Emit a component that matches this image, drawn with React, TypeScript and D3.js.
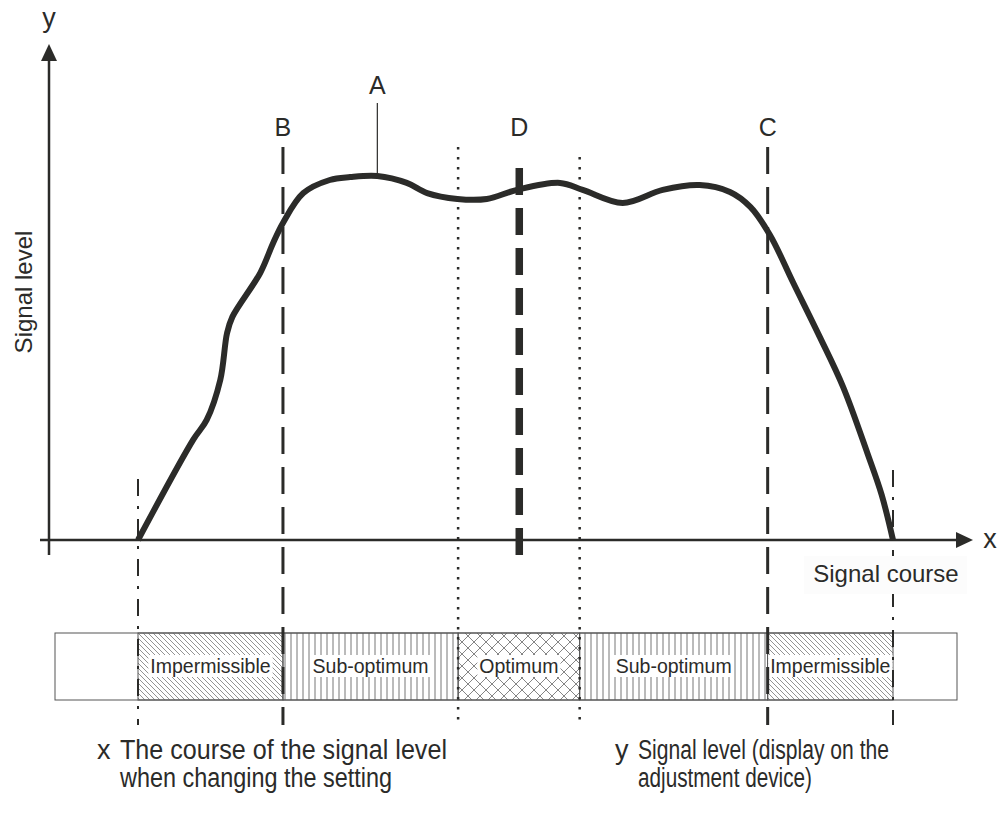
import React, { useRef, useEffect } from 'react';
import * as d3 from 'd3';

// signal course (0 = lower limit, 100 = upper limit) vs signal level (0..100 = peak)
const curveX = [0, 7.3, 9.1, 10.9, 11.8, 12.5, 16.2, 17.9, 19.2, 21.9, 25.4, 28.1, 31.7, 35.6, 38.3, 42.3, 46.2, 50.2, 55.9, 58.9, 64.2, 69.5, 74.4, 78.4, 81.1, 83.7, 86.8, 90.3, 93.4, 96.6, 98.5, 100];
const curveY = [0, 27.5, 33.0, 44.0, 56.9, 61.3, 73.4, 81.6, 87.1, 95.3, 98.9, 99.7, 100, 98.1, 95.3, 93.7, 93.7, 96.2, 98.1, 96.2, 92.6, 96.2, 97.5, 95.6, 91.5, 83.8, 70.6, 55.8, 42.0, 23.9, 12.4, 0];

const zoneLabels = ['Impermissible', 'Sub-optimum', 'Optimum', 'Sub-optimum', 'Impermissible'];
const zoneKinds = ['imp', 'sub', 'opt', 'sub', 'imp'];
const zoneBounds = [0, 19.2, 42.4, 58.5, 83.4, 100];

const markerLabels = ['B', 'D', 'C'];
const markerPos = [19.2, 50.5, 83.4];
const peakLabel = 'A';
const peakPos = 31.7;

const footerLeft = ['The course of the signal level', 'when changing the setting'];
const footerRight = ['Signal level (display on the', 'adjustment device)'];

const INK = '#2b2b29';
const FONT = '"Liberation Sans", Arial, sans-serif';
const NARROW = '"Liberation Sans Narrow", "Arial Narrow", "Liberation Sans", Arial, sans-serif';

const App: React.FC = () => {
  const svgRef = useRef<SVGSVGElement>(null);

  useEffect(() => {
    if (!svgRef.current) return;
    const svg = d3.select(svgRef.current);
    svg.selectAll('*').remove();

    const x = d3.scaleLinear().domain([0, 100]).range([138, 893]);
    const y = d3.scaleLinear().domain([0, 100]).range([540, 176]);
    const x0 = 49; // y axis position
    const bandTop = 633, bandBottom = 700, bandLeft = 55, bandRight = 957;
    const lineBottom = 725;

    const defs = svg.append('defs');
    const diag = defs.append('pattern').attr('id', 'p-imp').attr('patternUnits', 'userSpaceOnUse')
      .attr('width', 5).attr('height', 5);
    diag.append('path').attr('d', 'M-1,-1L6,6M-1,4L1,6M4,-1L6,1')
      .attr('stroke', '#777').attr('stroke-width', 0.8);
    const vert = defs.append('pattern').attr('id', 'p-sub').attr('patternUnits', 'userSpaceOnUse')
      .attr('width', 6).attr('height', 6);
    vert.append('path').attr('d', 'M3,0L3,6').attr('stroke', '#666').attr('stroke-width', 0.9);
    const cross = defs.append('pattern').attr('id', 'p-opt').attr('patternUnits', 'userSpaceOnUse')
      .attr('width', 12).attr('height', 12);
    cross.append('path').attr('d', 'M0,0L12,12M12,0L0,12')
      .attr('stroke', '#666').attr('stroke-width', 0.8);

    // band
    svg.append('rect').attr('x', bandLeft).attr('y', bandTop)
      .attr('width', bandRight - bandLeft).attr('height', bandBottom - bandTop)
      .attr('fill', '#fff').attr('stroke', '#555').attr('stroke-width', 1);

    const zones = zoneLabels.map((label, i) => ({
      label, kind: zoneKinds[i], a: zoneBounds[i], b: zoneBounds[i + 1],
    }));
    svg.append('g').selectAll('rect').data(zones).join('rect')
      .attr('x', d => x(d.a)).attr('y', bandTop)
      .attr('width', d => x(d.b) - x(d.a)).attr('height', bandBottom - bandTop)
      .attr('fill', d => `url(#p-${d.kind})`)
      .attr('stroke', '#555').attr('stroke-width', 1);

    const zl = svg.append('g').selectAll('g').data(zones).join('g');
    zl.append('rect').attr('fill', '#fff');
    zl.append('text')
      .attr('x', d => (x(d.a) + x(d.b)) / 2).attr('y', 673)
      .attr('text-anchor', 'middle').attr('font-family', FONT).attr('font-size', 19.5)
      .attr('fill', INK).text(d => d.label);
    zl.each(function () {
      const g = d3.select(this);
      const bb = (g.select('text').node() as SVGTextElement).getBBox();
      g.select('rect').attr('x', bb.x - 2).attr('y', bb.y).attr('width', bb.width + 4).attr('height', bb.height);
    });

    // vertical markers
    const vline = (px: number, top: number, bottom: number, dash: string, w: number) =>
      svg.append('line').attr('x1', px).attr('x2', px).attr('y1', top).attr('y2', bottom)
        .attr('stroke', INK).attr('stroke-width', w).attr('stroke-dasharray', dash);
    vline(x(zoneBounds[0]), 479, lineBottom, '17,10,3,10', 2);
    vline(x(zoneBounds[5]), 470, lineBottom, '17,10,3,10', 2);
    vline(x(zoneBounds[2]), 147, lineBottom, '2.5,7.5', 2.5);
    vline(x(zoneBounds[3]), 157, lineBottom, '2.5,7.5', 2.5);
    vline(x(markerPos[0]), 147, lineBottom, '27,13', 3);
    vline(x(markerPos[2]), 147, lineBottom, '27,13', 3);
    vline(x(markerPos[1]), 168, 555, '27,13', 7.5);

    // axes
    svg.append('line').attr('x1', 40).attr('x2', 958).attr('y1', y(0)).attr('y2', y(0))
      .attr('stroke', INK).attr('stroke-width', 2.5);
    svg.append('line').attr('x1', x0).attr('x2', x0).attr('y1', 555).attr('y2', 58)
      .attr('stroke', INK).attr('stroke-width', 2.5);
    svg.append('path').attr('d', `M${x0},44L${x0 - 8},61L${x0 + 8},61Z`).attr('fill', INK);
    svg.append('path').attr('d', `M973,${y(0)}L956,${y(0) - 8}L956,${y(0) + 8}Z`).attr('fill', INK);
    svg.append('text').attr('x', x0).attr('y', 27).attr('text-anchor', 'middle')
      .attr('font-family', FONT).attr('font-size', 27).attr('fill', INK).text('y');
    svg.append('text').attr('x', 990).attr('y', y(0) + 8).attr('text-anchor', 'middle')
      .attr('font-family', FONT).attr('font-size', 27).attr('fill', INK).text('x');
    svg.append('text').attr('transform', `translate(32,${292}) rotate(-90)`)
      .attr('text-anchor', 'middle').attr('font-family', FONT).attr('font-size', 24)
      .attr('fill', INK).text('Signal level');
    svg.append('rect').attr('x', 804).attr('y', 556).attr('width', 163).attr('height', 38)
      .attr('fill', '#fcfcfc');
    svg.append('text').attr('x', 886).attr('y', 582).attr('text-anchor', 'middle')
      .attr('font-family', FONT).attr('font-size', 24).attr('fill', INK).text('Signal course');

    // curve
    const line = d3.line<number>()
      .x((_, i) => x(curveX[i])).y(d => y(d))
      .curve(d3.curveCatmullRom.alpha(0.5));
    svg.append('path').attr('d', line(curveY)).attr('fill', 'none')
      .attr('stroke', INK).attr('stroke-width', 6).attr('stroke-linejoin', 'round');

    // labels
    svg.append('g').selectAll('text').data(markerLabels).join('text')
      .attr('x', (_, i) => x(markerPos[i])).attr('y', 136).attr('text-anchor', 'middle')
      .attr('font-family', FONT).attr('font-size', 25).attr('fill', INK).text(d => d);
    svg.append('line').attr('x1', x(peakPos)).attr('x2', x(peakPos)).attr('y1', 103).attr('y2', y(100))
      .attr('stroke', INK).attr('stroke-width', 1.2);
    svg.append('text').attr('x', x(peakPos)).attr('y', 94).attr('text-anchor', 'middle')
      .attr('font-family', FONT).attr('font-size', 25).attr('fill', INK).text(peakLabel);

    // footer legend
    const foot = svg.append('g').attr('font-family', NARROW).attr('font-size', 27).attr('fill', INK);
    foot.append('text').attr('x', 97).attr('y', 759).text('x');
    foot.append('text').attr('x', 615).attr('y', 759).text('y');
    const leftW = [327, 272];
    const rightW = [251, 174];
    footerLeft.forEach((t, i) => {
      foot.append('text').attr('x', 120).attr('y', 759 + i * 28).attr('textLength', leftW[i])
        .attr('lengthAdjust', 'spacingAndGlyphs').text(t);
    });
    footerRight.forEach((t, i) => {
      foot.append('text').attr('x', 638).attr('y', 759 + i * 28).attr('textLength', rightW[i])
        .attr('lengthAdjust', 'spacingAndGlyphs').text(t);
    });
  }, []);

  return (
    <svg ref={svgRef} width={1006} height={814}
      style={{ position: 'absolute', left: 0, top: 0, background: '#fff', display: 'block' }} />
  );
};

export default App;
